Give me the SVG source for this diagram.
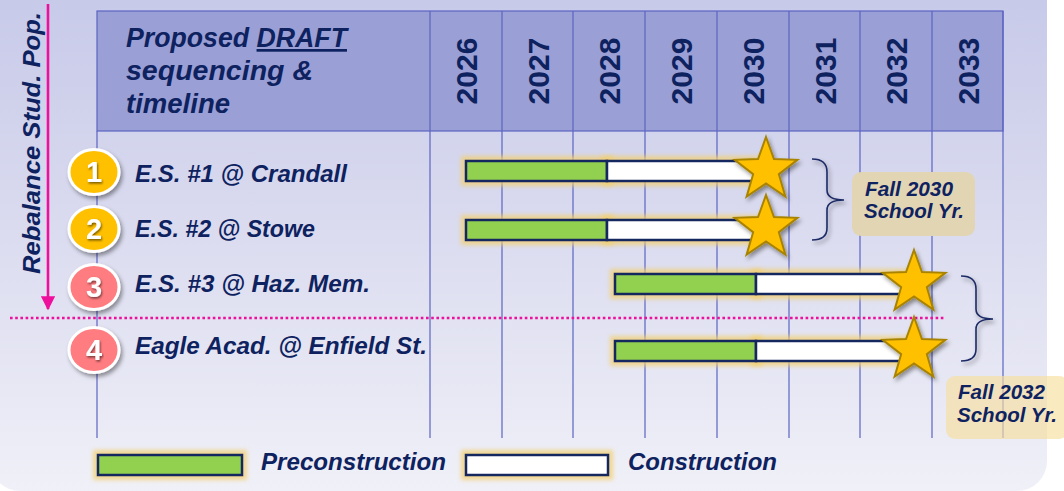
<svg xmlns="http://www.w3.org/2000/svg" width="1064" height="491" viewBox="0 0 1064 491">
<defs>
<linearGradient id="bg" x1="0" y1="0" x2="0" y2="1">
<stop offset="0" stop-color="#c4c7e8"/>
<stop offset="0.5" stop-color="#dadbef"/>
<stop offset="1" stop-color="#f0f0f8"/>
</linearGradient>
<filter id="shadow" x="-30%" y="-30%" width="160%" height="160%">
<feDropShadow dx="2" dy="3" stdDeviation="2" flood-color="#000" flood-opacity="0.4"/>
</filter>
<filter id="tshadow" x="-10%" y="-20%" width="120%" height="140%">
<feDropShadow dx="1" dy="1.5" stdDeviation="0.8" flood-color="#000" flood-opacity="0.55"/>
</filter>
<filter id="glow" x="-20%" y="-60%" width="140%" height="220%">
<feGaussianBlur stdDeviation="2.2"/>
</filter>
<path id="star" d="M0,-33 L7.94,-10.92 L31.38,-10.2 L12.84,4.17 L19.4,26.7 L0,13.5 L-19.4,26.7 L-12.84,4.17 L-31.38,-10.2 L-7.94,-10.92 Z"/>
<marker id="arrow" viewBox="0 0 10 10" refX="9" refY="5" markerWidth="5.5" markerHeight="5.5" orient="auto" markerUnits="strokeWidth">
<path d="M0,0 L10,5 L0,10 Z" fill="#ee0f9c"/>
</marker>
</defs>
<style>
.t{font-family:"Liberation Sans",Arial,sans-serif;font-weight:bold;font-style:italic;fill:#0e2260}
.yr{font-family:"Liberation Sans",Arial,sans-serif;font-weight:bold;font-size:30px;fill:#0e2260;text-anchor:middle}
.grid{stroke:#5c64c2;stroke-width:1.2;fill:none}
.pre{fill:#92d050;stroke:#14275f;stroke-width:2.5}
.con{fill:#ffffff;stroke:#14275f;stroke-width:2.5}
.gl{fill:#f2cf6e;opacity:0.75}
.st{fill:#ffc000;stroke:#a88300;stroke-width:2}
.num{font-family:"Liberation Sans",Arial,sans-serif;font-weight:bold;font-size:29px;fill:#ffffff;text-anchor:middle}
.brace{fill:none;stroke:#1d2b66;stroke-width:1.6}
</style>
<rect x="0" y="0" width="1064" height="491" fill="#ffffff"/>
<rect x="-10" y="-40" width="1057" height="531" rx="30" fill="url(#bg)"/>

<g id="table">
<rect x="97" y="11" width="906" height="120" fill="#9aa0d6"/>
<rect x="97" y="11" width="906" height="120" class="grid"/>
<path class="grid" d="M97,131 V438 M430,11 V438 M502,11 V438 M573,11 V438 M645,11 V438 M717,11 V438 M789,11 V438 M860,11 V438 M932,11 V438 M1003,11 V438"/>
<text class="t" font-size="27" x="126" y="47" textLength="221" lengthAdjust="spacingAndGlyphs">Proposed <tspan text-decoration="underline">DRAFT</tspan></text>
<text class="t" font-size="27" x="126" y="80" textLength="187" lengthAdjust="spacingAndGlyphs">sequencing &amp;</text>
<text class="t" font-size="27" x="126" y="113" textLength="104" lengthAdjust="spacingAndGlyphs">timeline</text>
<text class="yr" transform="translate(477,71) rotate(-90)">2026</text>
<text class="yr" transform="translate(548.5,71) rotate(-90)">2027</text>
<text class="yr" transform="translate(620,71) rotate(-90)">2028</text>
<text class="yr" transform="translate(692,71) rotate(-90)">2029</text>
<text class="yr" transform="translate(764,71) rotate(-90)">2030</text>
<text class="yr" transform="translate(835.5,71) rotate(-90)">2031</text>
<text class="yr" transform="translate(907,71) rotate(-90)">2032</text>
<text class="yr" transform="translate(978.5,71) rotate(-90)">2033</text>
</g>

<g id="rebalance-label">
<text class="t" font-size="24" text-anchor="middle" transform="translate(40,143) rotate(-90)" textLength="262" lengthAdjust="spacingAndGlyphs">Rebalance Stud. Pop.</text>
</g>

<g id="connectors">
<line x1="48" y1="4" x2="48" y2="309" stroke="#ee0f9c" stroke-width="2.6" marker-end="url(#arrow)"/>
<line x1="10" y1="318" x2="946" y2="318" stroke="#ee0f9c" stroke-width="2.6" stroke-dasharray="2.6 2.6"/>
<path class="brace" filter="url(#shadow)" d="M812,159 Q827,159 827,172 L827,190 Q827,200 844,200 Q827,200 827,210 L827,228 Q827,240 812,240"/>
<path class="brace" filter="url(#shadow)" d="M961,276 Q976,276 976,289 L976,309 Q976,319 993,319 Q976,319 976,329 L976,349 Q976,361 961,361"/>
</g>

<g id="row1">
<g filter="url(#shadow)"><ellipse cx="94" cy="172" rx="25" ry="22.5" fill="#ffc000" stroke="#ffffff" stroke-width="3"/></g>
<text class="num" x="94" y="182" filter="url(#tshadow)">1</text>
<text class="t" font-size="24" x="135" y="182" textLength="212" lengthAdjust="spacingAndGlyphs">E.S. #1 @ Crandall</text>
<rect class="gl" filter="url(#glow)" x="461" y="156" width="152" height="30"/>
<rect class="gl" filter="url(#glow)" x="602" y="156" width="166" height="30"/>
<rect class="pre" x="466" y="161" width="141" height="20"/>
<rect class="con" x="607" y="161" width="158" height="20"/>
<use href="#star" class="st" x="766" y="170" filter="url(#shadow)"/>
</g>

<g id="row2">
<g filter="url(#shadow)"><ellipse cx="94" cy="229" rx="25" ry="22.5" fill="#ffc000" stroke="#ffffff" stroke-width="3"/></g>
<text class="num" x="94" y="239" filter="url(#tshadow)">2</text>
<text class="t" font-size="24" x="135" y="237" textLength="180" lengthAdjust="spacingAndGlyphs">E.S. #2 @ Stowe</text>
<rect class="gl" filter="url(#glow)" x="461" y="215" width="152" height="30"/>
<rect class="gl" filter="url(#glow)" x="602" y="215" width="166" height="30"/>
<rect class="pre" x="466" y="220" width="141" height="20"/>
<rect class="con" x="607" y="220" width="158" height="20"/>
<use href="#star" class="st" x="766" y="228" filter="url(#shadow)"/>
</g>

<g id="row3">
<g filter="url(#shadow)"><ellipse cx="94" cy="287" rx="25" ry="22.5" fill="#ff7c80" stroke="#ffffff" stroke-width="3"/></g>
<text class="num" x="94" y="297" filter="url(#tshadow)">3</text>
<text class="t" font-size="24" x="135" y="292" textLength="235" lengthAdjust="spacingAndGlyphs">E.S. #3 @ Haz. Mem.</text>
<rect class="gl" filter="url(#glow)" x="610" y="269" width="152" height="30"/>
<rect class="gl" filter="url(#glow)" x="751" y="269" width="165" height="30"/>
<rect class="pre" x="615" y="274" width="141" height="20"/>
<rect class="con" x="756" y="274" width="156" height="20"/>
<use href="#star" class="st" x="914" y="283" filter="url(#shadow)"/>
</g>

<g id="row4">
<g filter="url(#shadow)"><ellipse cx="94" cy="350" rx="25" ry="22.5" fill="#ff7c80" stroke="#ffffff" stroke-width="3"/></g>
<text class="num" x="94" y="360" filter="url(#tshadow)">4</text>
<text class="t" font-size="24" x="135" y="354" textLength="292" lengthAdjust="spacingAndGlyphs">Eagle Acad. @ Enfield St.</text>
<rect class="gl" filter="url(#glow)" x="610" y="336" width="152" height="30"/>
<rect class="gl" filter="url(#glow)" x="751" y="336" width="165" height="30"/>
<rect class="pre" x="615" y="341" width="141" height="20"/>
<rect class="con" x="756" y="341" width="156" height="20"/>
<use href="#star" class="st" x="914" y="350" filter="url(#shadow)"/>
</g>

<g id="fall2030">
<rect x="852" y="172" width="123" height="64" rx="9" fill="#e2d5b4"/>
<text class="t" font-size="20.5" x="865" y="196" textLength="88" lengthAdjust="spacingAndGlyphs">Fall 2030</text>
<text class="t" font-size="20.5" x="864" y="218" textLength="100" lengthAdjust="spacingAndGlyphs">School Yr.</text>
</g>

<g id="fall2032">
<rect x="946" y="376" width="122" height="63" rx="9" fill="#f8df9e" opacity="0.65"/>
<text class="t" font-size="20.5" x="958" y="399" textLength="87" lengthAdjust="spacingAndGlyphs">Fall 2032</text>
<text class="t" font-size="20.5" x="957" y="422" textLength="100" lengthAdjust="spacingAndGlyphs">School Yr.</text>
</g>

<g id="legend">
<rect class="gl" filter="url(#glow)" x="93" y="450" width="154" height="30"/>
<rect class="pre" x="98" y="455" width="144" height="20"/>
<text class="t" font-size="23" x="261" y="470" textLength="185" lengthAdjust="spacingAndGlyphs">Preconstruction</text>
<rect class="gl" filter="url(#glow)" x="461" y="450" width="152" height="30"/>
<rect class="con" x="466" y="455" width="142" height="20"/>
<text class="t" font-size="23" x="628" y="470" textLength="149" lengthAdjust="spacingAndGlyphs">Construction</text>
</g>
</svg>
